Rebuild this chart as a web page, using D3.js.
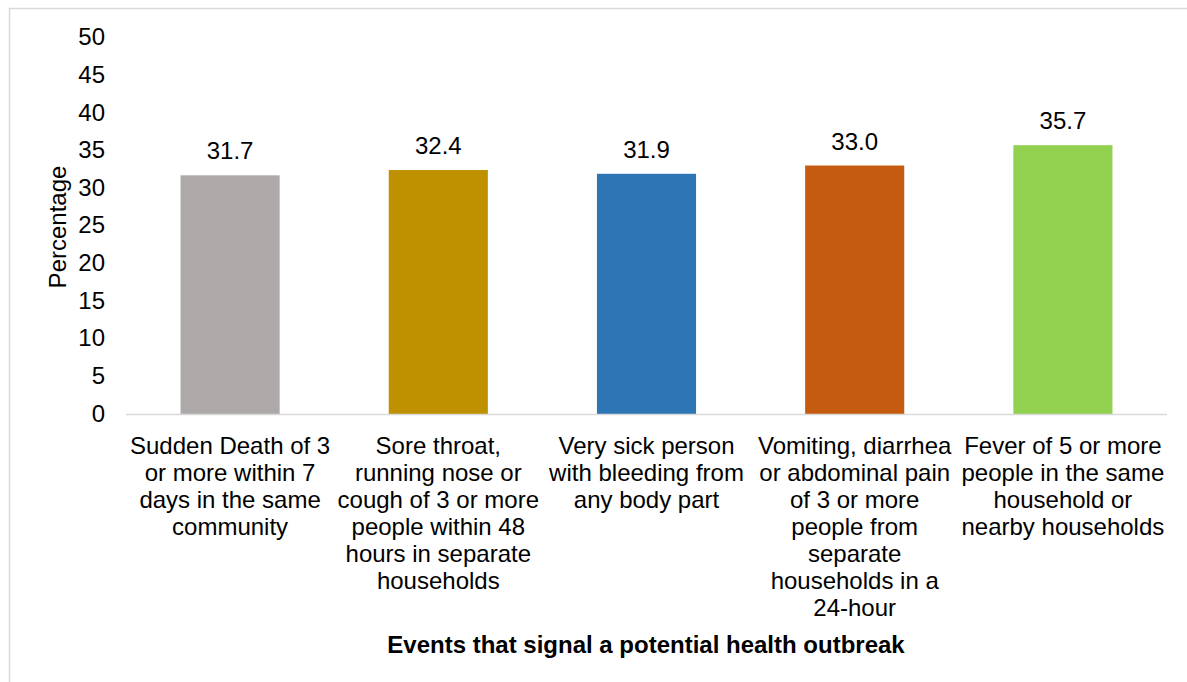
<!DOCTYPE html>
<html><head><meta charset="utf-8">
<script src="https://cdn.jsdelivr.net/npm/d3@7"></script>
<style>body{margin:0;background:#fff;}svg{display:block;font-family:"Liberation Sans",Arial,sans-serif;}</style>
</head><body>
<svg id="c" width="1187" height="682"></svg>
<script>
const categories = [
  ["Sudden Death of 3","or more within 7","days in the same","community"],
  ["Sore throat,","running nose or","cough of 3 or more","people within 48","hours in separate","households"],
  ["Very sick person","with bleeding from","any body part"],
  ["Vomiting, diarrhea","or abdominal pain","of 3 or more","people from","separate","households in a","24-hour"],
  ["Fever of 5 or more","people in the same","household or","nearby households"]
];
const values = [31.7, 32.4, 31.9, 33.0, 35.7];
const colors = ["#ADA9A8", "#BF9000", "#2E75B6", "#C55A11", "#92D050"];
const yTicks = [0,5,10,15,20,25,30,35,40,45,50];
const yTitle = "Percentage";
const xTitle = "Events that signal a potential health outbreak";

const svg = d3.select("#c");
svg.append("rect").attr("x",9.5).attr("y",8.5).attr("width",1190).attr("height",700)
  .attr("fill","#fff").attr("stroke","#D9D9D9").attr("stroke-width",1.5);

const pLeft=126, pRight=1167, pTop=37.5, pBottom=414;
const x = d3.scaleBand().domain(d3.range(values.length)).range([pLeft,pRight]).paddingInner(0.524).paddingOuter(0.262);
const y = d3.scaleLinear().domain([0,50]).range([pBottom,pTop]);

// y tick labels
const yAxis = d3.axisLeft(y).tickValues(yTicks).tickSize(0).tickPadding(0);
const ga = svg.append("g").attr("transform",`translate(${105},0)`).call(yAxis);
ga.select(".domain").remove();
ga.selectAll("text").attr("font-size",24).attr("fill","#000").attr("font-family","Liberation Sans, Arial, sans-serif").attr("dy","0.3em");

// bars
svg.selectAll("rect.bar").data(values).join("rect").attr("class","bar")
  .attr("x",(d,i)=>x(i)).attr("width",x.bandwidth())
  .attr("y",d=>y(d)).attr("height",d=>y(0)-y(d))
  .attr("fill",(d,i)=>colors[i]);

// baseline
svg.append("line").attr("x1",pLeft).attr("x2",pRight).attr("y1",pBottom+0.5).attr("y2",pBottom+0.5)
  .attr("stroke","#D9D9D9").attr("stroke-width",1.5);

// value labels
svg.selectAll("text.val").data(values).join("text").attr("class","val")
  .attr("x",(d,i)=>x(i)+x.bandwidth()/2).attr("y",d=>y(d)-16)
  .attr("text-anchor","middle").attr("font-size",24).attr("fill","#000")
  .text(d=>d.toFixed(1));

// category labels
const cg = svg.append("g");
categories.forEach((lines,i)=>{
  const t = cg.append("text").attr("text-anchor","middle").attr("font-size",24).attr("fill","#000");
  lines.forEach((ln,j)=>{
    t.append("tspan").attr("x",x(i)+x.bandwidth()/2).attr("y",454+j*27).text(ln);
  });
});

// axis titles
svg.append("text").attr("transform",`translate(66,${227}) rotate(-90)`)
  .attr("text-anchor","middle").attr("font-size",24).attr("fill","#000").text(yTitle);
svg.append("text").attr("x",646).attr("y",653).attr("text-anchor","middle")
  .attr("font-size",24).attr("font-weight","bold").attr("fill","#000").text(xTitle);
</script>
</body></html>
